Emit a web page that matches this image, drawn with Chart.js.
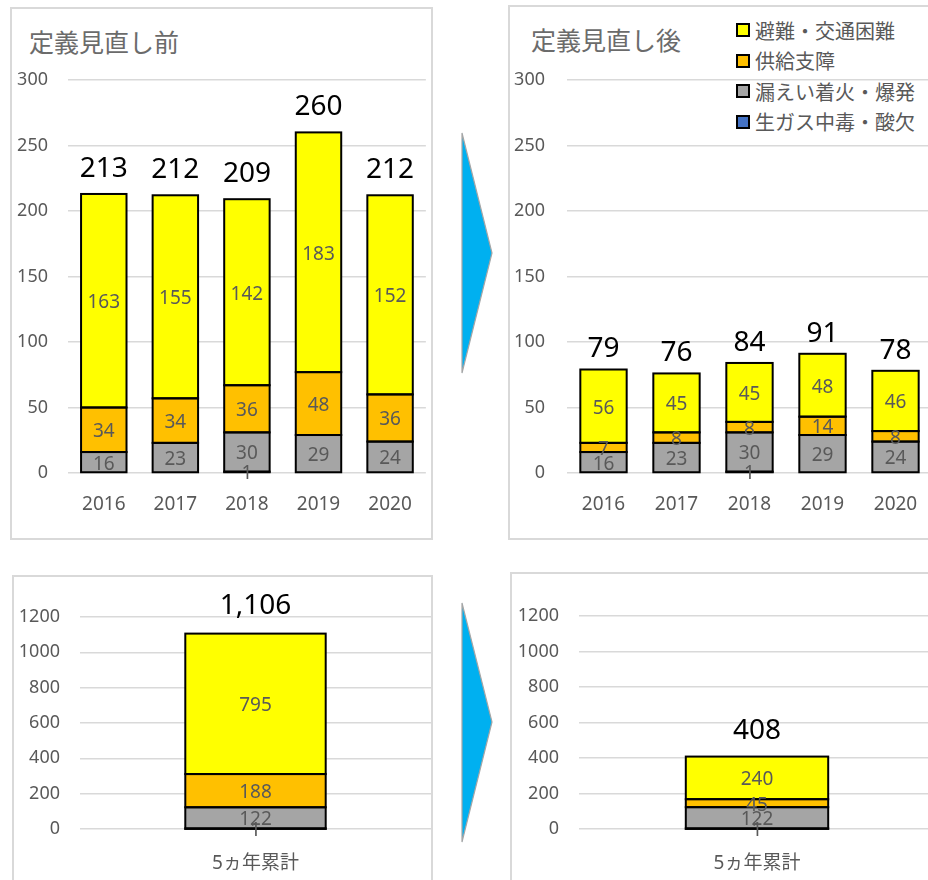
<!DOCTYPE html>
<html lang="ja">
<head>
<meta charset="utf-8">
<title>ガス事故件数 定義見直し前後</title>
<script src="https://cdn.jsdelivr.net/npm/chart.js@4.4.1/dist/chart.umd.min.js"></script>
<style>
    html, body {
        margin: 0;
        padding: 0;
        width: 928px;
        height: 880px;
        overflow: hidden;
        background: #fff;
    }
    .panel {
        position: absolute;
        box-sizing: border-box;
        border: 2px solid #D9D9D9;
    }
    canvas {
        position: absolute;
    }
    .title {
        position: absolute;
        font-family: "Noto Sans CJK JP", sans-serif;
        font-size: 25px;
        line-height: 1;
        color: #6b6b6b;
        white-space: nowrap;
    }
    #legend {
        position: absolute;
        left: 736px;
        top: 15px;
        font-family: "Noto Sans CJK JP", sans-serif;
        font-size: 20px;
        color: #595959;
    }
    #legend .item {
        height: 30.5px;
        display: flex;
        align-items: center;
        white-space: nowrap;
    }
    #legend .box {
        width: 10px;
        height: 10px;
        border: 2px solid #000;
        margin-right: 5px;
    }
    #arrows {
        position: absolute;
        left: 0;
        top: 0;
    }
</style>
</head>
<body>

<div class="panel" style="left:10px; top:7px; width:423px; height:533px;"></div>
<div class="panel" style="left:508px; top:5px; width:440px; height:535px;"></div>
<div class="panel" style="left:12px; top:575px; width:421px; height:320px;"></div>
<div class="panel" style="left:510px; top:572px; width:440px; height:320px;"></div>

<svg id="arrows" width="928" height="880">
    <polygon points="462,133 492,253 462,373" fill="#00B0F0" stroke="#A6A6A6" stroke-width="1.2"/>
    <polygon points="462,603 492,722 462,842" fill="#00B0F0" stroke="#A6A6A6" stroke-width="1.2"/>
</svg>

<div class="title" style="left:29px; top:29px;">定義見直し前</div>
<div class="title" style="left:531px; top:27px;">定義見直し後</div>
<div id="legend"></div>

<canvas id="chartBefore" width="422" height="532" style="left:10px; top:7px;"></canvas>
<canvas id="chartAfter" width="440" height="534" style="left:508px; top:5px;"></canvas>
<canvas id="chartBeforeTotal" width="420" height="305" style="left:12px; top:575px;"></canvas>
<canvas id="chartAfterTotal" width="440" height="308" style="left:510px; top:572px;"></canvas>

<script>
// 年別
const years = ["2016", "2017", "2018", "2019", "2020"];
const totalCategory = ["5ヵ年累計"];

// 系列（積み上げ順：下から）
const seriesNames = ["生ガス中毒・酸欠", "漏えい着火・爆発", "供給支障", "避難・交通困難"];
const seriesColors = ["#4472C4", "#A5A5A5", "#FFC000", "#FFFF00"];

// 定義見直し前
const beforeSuffocation = [null, null, 1, null, null];
const beforeIgnition = [16, 23, 30, 29, 24];
const beforeSupply = [34, 34, 36, 48, 36];
const beforeEvacuation = [163, 155, 142, 183, 152];

// 定義見直し後
const afterSuffocation = [null, null, 1, null, null];
const afterIgnition = [16, 23, 30, 29, 24];
const afterSupply = [7, 8, 8, 14, 8];
const afterEvacuation = [56, 45, 45, 48, 46];

// 5ヵ年累計
const beforeTotalSuffocation = [1];
const beforeTotalIgnition = [122];
const beforeTotalSupply = [188];
const beforeTotalEvacuation = [795];

const afterTotalSuffocation = [1];
const afterTotalIgnition = [122];
const afterTotalSupply = [45];
const afterTotalEvacuation = [240];

const NUM_FONT = "'Noto Sans', 'Noto Sans CJK JP', sans-serif";
const TEXT_GRAY = "#595959";

// 凡例（上から：避難・交通困難 → 生ガス中毒・酸欠）
const legend = document.getElementById("legend");
seriesNames.slice().reverse().forEach((name, i) => {
    const color = seriesColors[seriesColors.length - 1 - i];
    const item = document.createElement("div");
    item.className = "item";
    item.innerHTML = `<span class="box" style="background:${color}"></span><span>${name}</span>`;
    legend.appendChild(item);
});

// 枠線（辺の中心に引く）、各区分の値、積み上げ合計
const barLabels = {
    id: "barLabels",
    afterDatasetsDraw(chart, args, opts) {
        const ctx = chart.ctx;
        const yScale = chart.scales.y;
        ctx.save();

        ctx.strokeStyle = "#000";
        ctx.lineWidth = 2;
        chart.data.datasets.forEach((dataset, di) => {
            chart.getDatasetMeta(di).data.forEach((bar, i) => {
                if (dataset.data[i] === null || dataset.data[i] === undefined) {
                    return;
                }
                const {x, y, base, width} = bar.getProps(["x", "y", "base", "width"], true);
                ctx.strokeRect(x - width / 2, y, width, base - y);
            });
        });

        ctx.textAlign = "center";
        ctx.textBaseline = "middle";
        ctx.font = `19px ${NUM_FONT}`;
        ctx.fillStyle = TEXT_GRAY;
        chart.data.datasets.forEach((dataset, di) => {
            chart.getDatasetMeta(di).data.forEach((bar, i) => {
                const value = dataset.data[i];
                if (value === null || value === undefined) {
                    return;
                }
                ctx.fillText(String(value), bar.x, (bar.y + bar.base) / 2 + 2);
            });
        });

        ctx.font = `28px ${NUM_FONT}`;
        ctx.fillStyle = "#000";
        chart.data.labels.forEach((label, i) => {
            const total = chart.data.datasets.reduce((sum, ds) => sum + (ds.data[i] || 0), 0);
            const x = chart.getDatasetMeta(0).data[i].x;
            const y = yScale.getPixelForValue(total) - opts.offset;
            ctx.fillText(total.toLocaleString("en-US"), x, y);
        });
        ctx.restore();
    }
};

function makeDatasets(values, barPercentage) {
    return values.map((data, i) => ({
        label: seriesNames[i],
        data: data,
        backgroundColor: seriesColors[i],
        borderWidth: 0,
        barPercentage: barPercentage,
        categoryPercentage: 1,
    }));
}

function renderChart(canvasId, labels, values, setup) {
    const canvas = document.getElementById(canvasId);
    return new Chart(canvas, {
        type: "bar",
        data: {
            labels: labels,
            datasets: makeDatasets(values, setup.barPercentage),
        },
        options: {
            responsive: false,
            animation: false,
            layout: {
                padding: {top: setup.top, right: setup.right, left: 0, bottom: 0}
            },
            plugins: {
                legend: {display: false},
                tooltip: {enabled: false},
                barLabels: {offset: setup.totalOffset},
            },
            scales: {
                x: {
                    stacked: true,
                    grid: {display: false, drawTicks: false},
                    border: {display: false},
                    ticks: {
                        color: TEXT_GRAY,
                        font: {family: NUM_FONT, size: 19},
                        padding: setup.xPadding,
                    },
                    afterFit: scale => {
                        scale.height = setup.xHeight;
                    },
                },
                y: {
                    stacked: true,
                    min: 0,
                    max: setup.max,
                    grid: {color: "#D9D9D9", lineWidth: 1.5, drawTicks: false},
                    border: {display: false},
                    ticks: {
                        stepSize: setup.step,
                        color: TEXT_GRAY,
                        font: {family: NUM_FONT, size: 18},
                        padding: setup.yPadding,
                        callback: value => String(value),
                    },
                    afterFit: scale => {
                        scale.width = setup.yWidth;
                    },
                },
            },
        },
        plugins: [barLabels],
    });
}

renderChart("chartBefore", years,
    [beforeSuffocation, beforeIgnition, beforeSupply, beforeEvacuation],
    {top: 73, right: 2, yWidth: 58, xHeight: 66, max: 300, step: 50,
        barPercentage: 0.635, xPadding: 20, yPadding: 20, totalOffset: 25});

renderChart("chartAfter", years,
    [afterSuffocation, afterIgnition, afterSupply, afterEvacuation],
    {top: 75, right: 16, yWidth: 59, xHeight: 66, max: 300, step: 50,
        barPercentage: 0.635, xPadding: 20, yPadding: 22, totalOffset: 20});

renderChart("chartBeforeTotal", totalCategory,
    [beforeTotalSuffocation, beforeTotalIgnition, beforeTotalSupply, beforeTotalEvacuation],
    {top: 42, right: 1, yWidth: 68, xHeight: 51, max: 1200, step: 200,
        barPercentage: 0.4, xPadding: 23, yPadding: 20, totalOffset: 28});

renderChart("chartAfterTotal", totalCategory,
    [afterTotalSuffocation, afterTotalIgnition, afterTotalSupply, afterTotalEvacuation],
    {top: 44, right: 15, yWidth: 69, xHeight: 51, max: 1200, step: 200,
        barPercentage: 0.4, xPadding: 23, yPadding: 20, totalOffset: 26});
</script>
</body>
</html>
